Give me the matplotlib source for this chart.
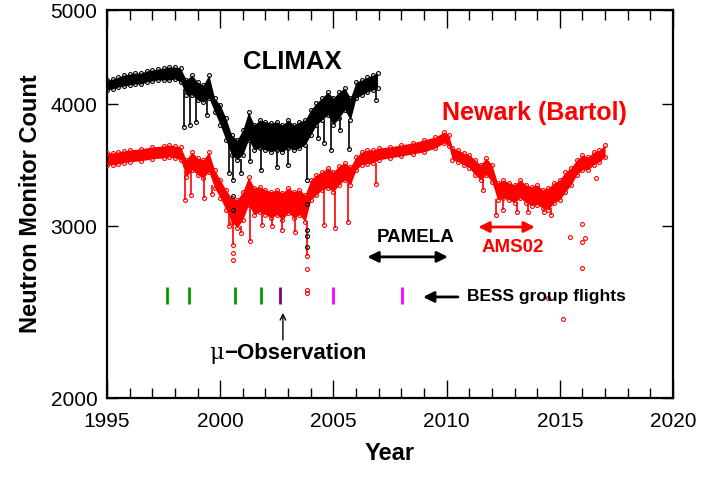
import matplotlib
matplotlib.use("Agg")
import matplotlib.pyplot as plt
from matplotlib.ticker import FixedLocator, MultipleLocator, NullLocator, NullFormatter

plt.rcParams['font.family'] = ['Liberation Sans', 'DejaVu Sans']

# ---------------- data ----------------
climax_year = [1995.0, 1995.25, 1995.5, 1995.75, 1996.0, 1996.25, 1996.5, 1996.75, 1997.0, 1997.25,
               1997.5, 1997.75, 1998.0, 1998.25, 1998.5, 1998.75, 1999.0, 1999.25, 1999.5, 1999.75,
               2000.0, 2000.25, 2000.5, 2000.75, 2001.0, 2001.25, 2001.5, 2001.75, 2002.0, 2002.25,
               2002.5, 2002.75, 2003.0, 2003.25, 2003.5, 2003.75, 2004.0, 2004.25, 2004.5, 2004.75,
               2005.0, 2005.25, 2005.5, 2005.75, 2006.0, 2006.25, 2006.5, 2006.75, 2006.95]
climax_hi = [4238, 4248, 4268, 4289, 4299, 4309, 4309, 4330, 4340, 4350,
             4360, 4371, 4371, 4360, 4238, 4289, 4218, 4188, 4289, 4062,
             3996, 3875, 3723, 3679, 3767, 3931, 3812, 3857, 3840, 3830,
             3840, 3812, 3857, 3812, 3840, 3857, 3949, 4015, 4062, 4120,
             4062, 4120, 4159, 4062, 4218, 4238, 4268, 4289, 4309]
climax_lo = [4139, 4149, 4168, 4178, 4188, 4198, 4198, 4218, 4228, 4238,
             4238, 4238, 4248, 4218, 4091, 4091, 4043, 4024, 4062, 3931,
             3812, 3679, 3551, 3510, 3551, 3679, 3593, 3610, 3593, 3576,
             3593, 3576, 3610, 3593, 3610, 3636, 3723, 3812, 3857, 3903,
             3812, 3875, 3949, 3857, 4062, 4091, 4120, 4139, 4159]
# Forbush-decrease spikes: year, top of spike, bottom of spike
climax_spike_year = [1998.4, 1998.65, 1998.95, 1999.4, 2000.4, 2000.55, 2000.9, 2001.3, 2001.8,
                     2002.5, 2003.0, 2003.83, 2004.3, 2004.6, 2004.9, 2005.3, 2005.7, 2006.9]
climax_spike_top = [4150, 4120, 4060, 4050, 3650, 3550, 3520, 3650, 3600,
                    3580, 3600, 3630, 3800, 3850, 3880, 3870, 3850, 4150]
climax_spike_bot = [3790, 3812, 3840, 3900, 3400, 3350, 3400, 3500, 3428,
                    3450, 3470, 3350, 3700, 3650, 3593, 3767, 3600, 4043]
climax_pt_year = [2000.55, 2000.55, 2003.83, 2003.83, 2003.83, 2003.83]
climax_pt_val = [3220, 3120, 3165, 2976, 2932, 2860]

newark_year = [1995.0, 1995.25, 1995.5, 1995.75, 1996.0, 1996.5, 1997.0, 1997.5, 1997.75, 1998.0,
               1998.25, 1998.5, 1998.75, 1999.0, 1999.25, 1999.5, 1999.75, 2000.0, 2000.25, 2000.5,
               2000.75, 2001.0, 2001.25, 2001.5, 2001.75, 2002.0, 2002.25, 2002.5, 2002.75, 2003.0,
               2003.25, 2003.5, 2003.75, 2004.0, 2004.25, 2004.5, 2004.75, 2005.0, 2005.25, 2005.5,
               2005.75, 2006.0, 2006.25, 2006.5, 2006.75, 2007.0, 2007.5, 2008.0, 2008.5, 2009.0,
               2009.5, 2009.9, 2010.1, 2010.25, 2010.5, 2010.75, 2011.0, 2011.25, 2011.5, 2011.75,
               2012.0, 2012.25, 2012.5, 2012.75, 2013.0, 2013.25, 2013.5, 2013.75, 2014.0, 2014.25,
               2014.5, 2014.75, 2015.0, 2015.25, 2015.5, 2015.75, 2016.0, 2016.25, 2016.5, 2016.75,
               2017.0]
newark_hi = [3568, 3568, 3576, 3585, 3593, 3602, 3619, 3627, 3636, 3627,
             3619, 3510, 3576, 3526, 3510, 3576, 3428, 3348, 3270, 3209,
             3194, 3255, 3372, 3286, 3294, 3270, 3255, 3270, 3247, 3286,
             3255, 3270, 3232, 3348, 3388, 3412, 3445, 3412, 3461, 3485,
             3453, 3534, 3576, 3593, 3593, 3610, 3619, 3636, 3653, 3679,
             3705, 3749, 3723, 3610, 3593, 3568, 3551, 3510, 3469, 3526,
             3469, 3325, 3348, 3325, 3309, 3348, 3309, 3294, 3309, 3270,
             3286, 3325, 3348, 3412, 3445, 3510, 3551, 3534, 3576, 3593,
             3636]
newark_lo = [3469, 3469, 3477, 3485, 3494, 3502, 3518, 3526, 3534, 3526,
             3510, 3372, 3428, 3388, 3364, 3412, 3286, 3209, 3120, 3032,
             2990, 3047, 3157, 3083, 3105, 3083, 3061, 3083, 3047, 3098,
             3061, 3083, 3032, 3194, 3232, 3270, 3286, 3255, 3309, 3348,
             3309, 3428, 3469, 3477, 3485, 3510, 3526, 3542, 3559, 3576,
             3610, 3653, 3627, 3510, 3494, 3469, 3445, 3388, 3348, 3388,
             3333, 3194, 3209, 3194, 3172, 3209, 3172, 3150, 3157, 3135,
             3120, 3172, 3194, 3255, 3309, 3388, 3428, 3428, 3469, 3494,
             3534]
newark_spike_year = [1998.45, 1998.7, 1999.3, 1999.65, 2000.4, 2000.55, 2000.9, 2001.3, 2001.85,
                     2002.3, 2002.75, 2003.3, 2003.83, 2004.6, 2005.07, 2005.65, 2006.9, 2011.6,
                     2012.2, 2012.5, 2013.1, 2013.6, 2014.3, 2014.6]
newark_spike_top = [3420, 3450, 3380, 3310, 3140, 3050, 3000, 3170, 3110,
                    3070, 3050, 3070, 3040, 3280, 3260, 3320, 3480, 3360,
                    3200, 3210, 3180, 3180, 3140, 3130]
newark_spike_bot = [3194, 3232, 3209, 3240, 3000, 2873, 2950, 2900, 3011,
                    3000, 2976, 2960, 2800, 3010, 2990, 3030, 3315, 3270,
                    3083, 3120, 3105, 3100, 3105, 3083]
newark_pt_year = [2000.55, 2000.55, 2003.83, 2003.83, 2003.83, 2015.45, 2015.98, 2015.98,
                  2016.1, 2016.0, 2014.48, 2015.14, 2016.6]
newark_pt_val = [2819, 2773, 2715, 2583, 2560, 2925, 3017, 2719,
                 2918, 2891, 2533, 2411, 3363]

bess_year = [1997.65, 1998.62, 2000.65, 2001.8, 2002.64, 2004.98, 2008.03]
bess_color = ['#009a00', '#009a00', '#009a00', '#009a00', '#800080', '#ff00ff', '#ff00ff']

x_ticks = [1995, 2000, 2005, 2010, 2015, 2020]
y_ticks = [2000, 3000, 4000, 5000]

# ---------------- figure ----------------
fig = plt.figure(figsize=(7.02, 4.79), dpi=100)
ax = fig.add_axes([107/702, 1 - 398/479, 566/702, 388/479])
ax.set_yscale('log')
ax.set_xlim(1995, 2020)
ax.set_ylim(2000, 5000)

MK = dict(marker='o', ms=2.8, mfc='none', mew=0.8, ls='none')

def draw_series(years, hi, lo, sy, st, sb, py, pv, color):
    ax.fill_between(years, lo, hi, color=color, lw=0, zorder=2)
    ax.plot(years, hi, mec=color, zorder=3, **MK)
    ax.plot(years, lo, mec=color, zorder=3, **MK)
    ax.vlines(sy, sb, st, colors=color, lw=1.2, zorder=2)
    ax.plot(sy, sb, mec=color, zorder=3, **MK)
    ax.plot(py, pv, mec=color, zorder=3, **MK)

draw_series(newark_year, newark_hi, newark_lo, newark_spike_year, newark_spike_top,
            newark_spike_bot, newark_pt_year, newark_pt_val, '#ff0000')
draw_series(climax_year, climax_hi, climax_lo, climax_spike_year, climax_spike_top,
            climax_spike_bot, climax_pt_year, climax_pt_val, 'black')

# BESS flight markers
ax.vlines(bess_year, 2498, 2600, colors=bess_color, lw=2, zorder=4)

# axes styling
ax.xaxis.set_major_locator(FixedLocator(x_ticks))
ax.xaxis.set_minor_locator(MultipleLocator(1))
ax.yaxis.set_major_locator(FixedLocator(y_ticks))
ax.yaxis.set_minor_locator(NullLocator())
ax.yaxis.set_minor_formatter(NullFormatter())
ax.set_yticklabels([str(v) for v in y_ticks])
ax.set_xticklabels([str(v) for v in x_ticks])
ax.tick_params(axis='x', which='major', direction='in', length=13, width=1, top=True,
               labelsize=15, pad=10)
ax.tick_params(axis='x', which='minor', direction='in', length=7, width=1, top=True)
ax.tick_params(axis='y', which='major', direction='in', length=8, width=1, right=True,
               labelsize=15, pad=7)
for s in ax.spines.values():
    s.set_linewidth(1.6)

ax.set_xlabel('Year', fontsize=17, fontweight='bold', labelpad=8)
ax.set_ylabel('Neutron Monitor Count', fontsize=17, fontweight='bold', labelpad=6)

# annotations
ax.text(2003.2, 4424, 'CLIMAX', fontsize=18.5, fontweight='bold', color='black',
        ha='center', va='center', zorder=5)
ax.text(2013.9, 3922, 'Newark (Bartol)', fontsize=18, fontweight='bold', color='#ff0000',
        ha='center', va='center', zorder=5)
ax.text(2008.65, 2925, 'PAMELA', fontsize=13.5, fontweight='bold', color='black',
        ha='center', va='center', zorder=5)
ax.annotate('', xy=(2006.5, 2791), xytext=(2010.06, 2791),
            arrowprops=dict(arrowstyle='<|-|>', color='black', lw=2, mutation_scale=16,
                            shrinkA=0, shrinkB=0), zorder=5)
ax.text(2012.9, 2851, 'AMS02', fontsize=13.5, fontweight='bold', color='#ff0000',
        ha='center', va='center', zorder=5)
ax.annotate('', xy=(2011.4, 2995), xytext=(2013.9, 2995),
            arrowprops=dict(arrowstyle='<|-|>', color='#ff0000', lw=2, mutation_scale=16,
                            shrinkA=0, shrinkB=0), zorder=5)
ax.text(2010.9, 2539, 'BESS group flights', fontsize=12.5, fontweight='bold', color='black',
        ha='left', va='center', zorder=5)
ax.annotate('', xy=(2008.96, 2539), xytext=(2010.5, 2539),
            arrowprops=dict(arrowstyle='-|>', color='black', lw=2, mutation_scale=16,
                            shrinkA=0, shrinkB=0), zorder=5)
ax.text(2000.17, 2224, 'μ', fontsize=16, color='black', family=['DejaVu Serif'],
        ha='right', va='center', zorder=5)
ax.text(2000.17, 2224, '−Observation', fontsize=16, fontweight='bold', color='black',
        ha='left', va='center', zorder=5)
ax.annotate('', xy=(2002.77, 2445), xytext=(2002.77, 2294),
            arrowprops=dict(arrowstyle='->', color='black', lw=1, shrinkA=0, shrinkB=0),
            zorder=5)

fig.savefig('out.png', dpi=100)
